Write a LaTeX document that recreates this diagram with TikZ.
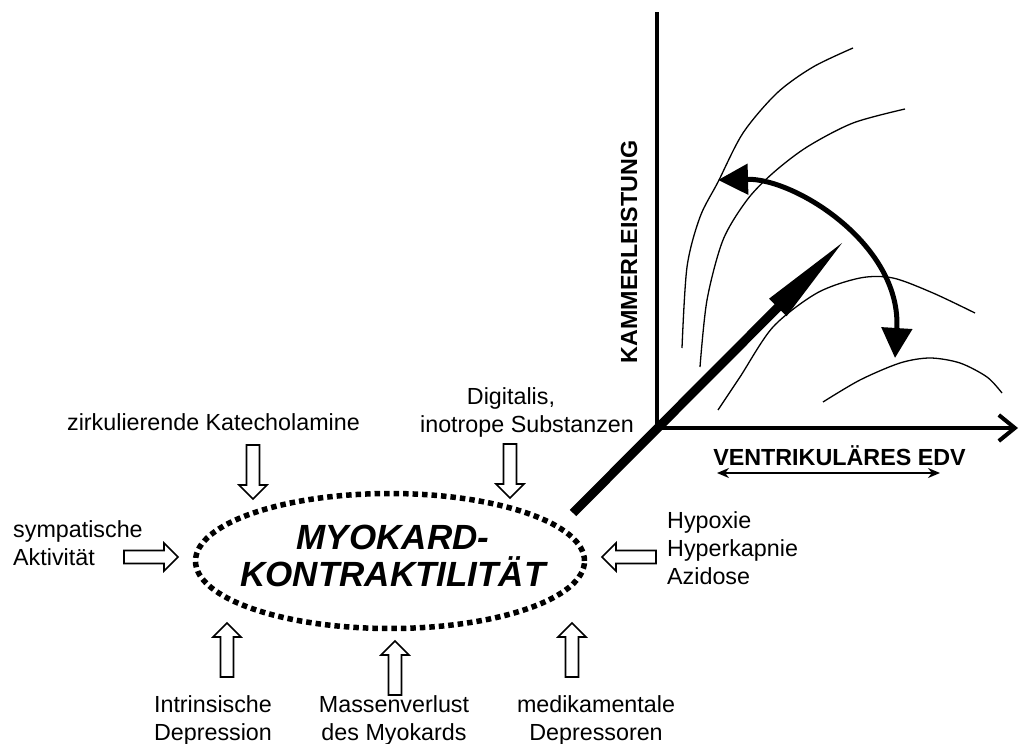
\documentclass[tikz,border=0pt]{standalone}
\usepackage{fontspec}
\setmainfont{Liberation Sans}
\usetikzlibrary{arrows.meta,shapes.geometric,positioning}

\tikzset{
  lbl/.style={font=\fontsize{23.3}{28}\selectfont, inner sep=0pt},
  axlbl/.style={font=\fontsize{23.3}{28}\selectfont\bfseries, inner sep=0pt},
  curve/.style={line width=1.3pt},
  blockarrow/.pic={\draw[line width=1.6pt, line join=miter]
    (0,0) -- (-14,-14) -- (-14,-6.5) -- (-54,-6.5) -- (-54,6.5) -- (-14,6.5) -- (-14,14) -- cycle;}
}

\begin{document}
\begin{tikzpicture}[x=1pt,y=-1pt]
  \useasboundingbox (0,0) rectangle (1021,744);
  % axes
  \coordinate (O) at (657,428);
  \coordinate (ytop) at (657,12);
  \coordinate (xend) at (1018,428);
  \draw[line width=4pt] (O) -- (ytop);
  \draw[line width=4pt, line cap=round, -{Straight Barb[length=16pt,width=26pt]}] (O) -- (xend);
  \node[axlbl, rotate=90] (ylab) at (629,252) {KAMMERLEISTUNG};
  \node[axlbl, anchor=base] (xlab) at (839.5,465) {VENTRIKULÄRES EDV};
  \coordinate (edvL) at (717,473);
  \coordinate (edvR) at (940,473);
  \draw[line width=2pt, {Stealth[length=12pt,width=10pt]}-{Stealth[length=12pt,width=10pt]}] (edvL) -- (edvR);
  % curves
  \draw[curve] plot[smooth] coordinates {(682,348) (687,267) (700,217) (718,182) (743,133) (777,93) (813,67) (853,48)};
  \draw[curve] plot[smooth] coordinates {(700,367) (707,300) (723,240) (747,200) (773,173) (807,147) (853,123) (905,109)};
  \draw[curve] plot[smooth] coordinates {(718,410) (740,377) (773,327) (817,293) (860,278) (893,278) (933,293) (975,313)};
  \draw[curve] plot[smooth] coordinates {(823,402) (860,380) (900,363) (930,358) (960,363) (987,377) (1002,393)};
  \coordinate (shiftL) at (718,180);
  \coordinate (shiftB) at (895,358);
  \draw[line width=5pt, {Triangle[length=30pt,width=30pt]}-{Triangle[length=30pt,width=30pt]}]
    (shiftL) .. controls (795,178) and (902,245) .. (shiftB);
  % myocardial contractility
  \node[ellipse, draw, line width=5.5pt, dash pattern=on 5.5pt off 4pt,
    minimum width=389pt, minimum height=135pt] (myo) at (390,561) {};
  \node[font=\fontsize{35}{37}\selectfont\bfseries\itshape, align=center, inner sep=0pt]
    (myotxt) at (393,556) {MYOKARD-\\KONTRAKTILITÄT};
  \coordinate (start) at (573,513);
  \coordinate (tip) at (847,238);
  \draw[line width=9pt, -{Triangle[length=98pt,width=22pt]}] (start) -- (tip);
  % influences
  \node[lbl, anchor=base] (kat) at (213.5,430) {zirkulierende Katecholamine};
  \node[lbl, anchor=base, align=center] (dig) at (527,432) {Digitalis,\hspace*{32pt}\\inotrope Substanzen};
  \node[lbl, anchor=base west, align=left] (sym) at (13,565) {sympatische\\Aktivität};
  \node[lbl, anchor=base west, align=left] (hyp) at (667,584) {Hypoxie\\Hyperkapnie\\Azidose};
  \node[lbl, anchor=base, align=center] (intr) at (213,740) {Intrinsische\\Depression};
  \node[lbl, anchor=base, align=center] (mass) at (394,740) {Massenverlust\\des Myokards};
  \node[lbl, anchor=base, align=center] (medi) at (596,740) {medikamentale\\Depressoren};
  \foreach \x/\y/\r in {253/499/-90, 510/498/-90, 178/557/0, 602/557/180, 227/623/90, 395/641/90, 572/623/90}
    \pic[rotate=\r] at (\x,\y) {blockarrow};
\end{tikzpicture}
\end{document}
